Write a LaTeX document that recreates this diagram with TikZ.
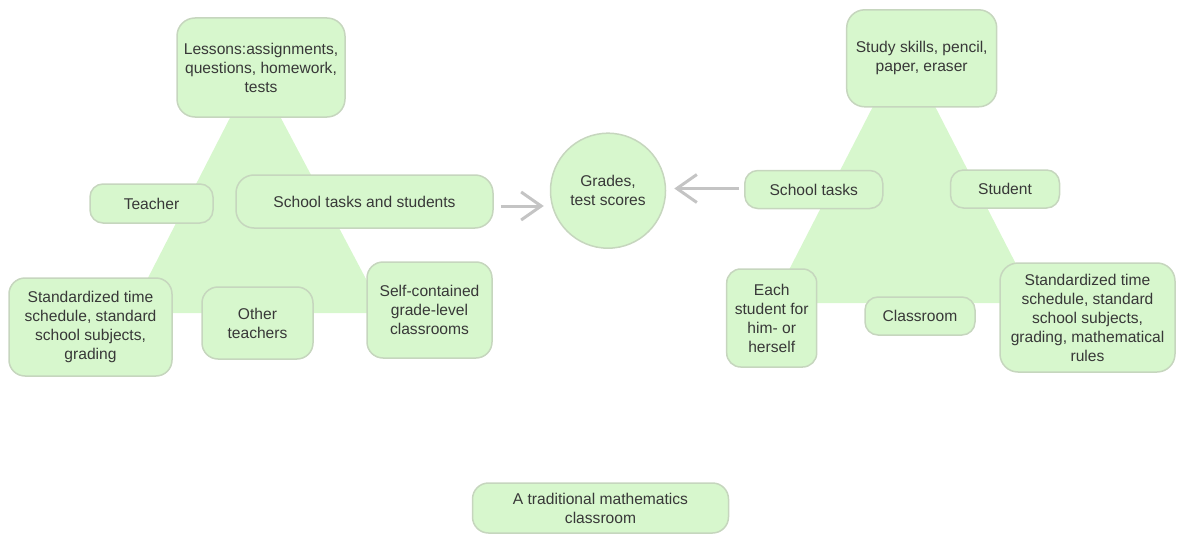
\documentclass[tikz,border=0pt]{standalone}
\usepackage{fontspec}
\setmainfont{Liberation Sans}
\usetikzlibrary{arrows.meta}
\definecolor{boxfill}{HTML}{D7F7CD}
\definecolor{boxline}{HTML}{C6D6BE}
\definecolor{trifill}{HTML}{D7F7CD}
\definecolor{txt}{HTML}{383838}
\definecolor{arrgray}{HTML}{C4C4C4}
\tikzset{
  box/.style={draw=boxline, line width=1.5pt, fill=boxfill, rounded corners=13pt,
    align=center, inner sep=2pt, text=txt,
    font=\fontsize{15.6}{19}\selectfont},
  circbox/.style={draw=boxline, line width=1.5pt, fill=boxfill, circle,
    align=center, inner sep=0pt, text=txt, minimum size=115pt,
    font=\fontsize{15.6}{19}\selectfont},
  arr/.style={draw=arrgray, line width=3pt, -{Straight Barb[length=20pt,width=28pt,line width=3pt]}},
}
\begin{document}
\begin{tikzpicture}[x=1pt,y=-1pt]
\useasboundingbox (0,0) rectangle (1178,535);
% triangles
\fill[trifill] (255,69) -- (384,313) -- (130,313) -- cycle;
\fill[trifill] (904,46) -- (1036,303) -- (772,303) -- cycle;
% left group
\node[box, minimum width=168pt, minimum height=99pt, rounded corners=18pt] (les) at (261,67.5)
  {Lessons:assignments,\\questions, homework,\\tests};
\node[box, minimum width=123pt, minimum height=39pt] (tea) at (151.5,203.5) {Teacher};
\node[box, minimum width=257pt, minimum height=53pt, rounded corners=18pt] (sts) at (364.5,201.5)
  {School tasks and students};
\node[box, minimum width=163pt, minimum height=98pt, rounded corners=16pt] (stl) at (90.5,327)
  {Standardized time\\schedule, standard\\school subjects,\\grading};
\node[box, minimum width=111pt, minimum height=72pt, rounded corners=16pt] (oth) at (257.5,323)
  {Other\\teachers};
\node[box, minimum width=125pt, minimum height=96pt, rounded corners=16pt] (self) at (429.5,310)
  {Self-contained\\grade-level\\classrooms};
% center
\node[circbox] (gr) at (608,190.7) {Grades,\\test scores};
% right group
\node[box, minimum width=150pt, minimum height=97pt, rounded corners=18pt] (stu) at (921.7,58.3)
  {Study skills, pencil,\\paper, eraser};
\node[box, minimum width=138pt, minimum height=38pt] (st) at (813.8,189.5) {School tasks};
\node[box, minimum width=109pt, minimum height=38pt] (sd) at (1005,189) {Student};
\node[box, minimum width=90pt, minimum height=98pt, rounded corners=14pt] (each) at (771.7,318)
  {Each\\student for\\him- or\\herself};
\node[box, minimum width=110pt, minimum height=38pt] (cls) at (920,316) {Classroom};
\node[box, minimum width=175pt, minimum height=109pt, rounded corners=18pt] (str) at (1087.5,317.5)
  {Standardized time\\schedule, standard\\school subjects,\\grading, mathematical\\rules};
% bottom title
\node[box, minimum width=256pt, minimum height=50pt, rounded corners=16pt] (title) at (600.5,508)
  {A traditional mathematics\\classroom};
% arrows
\draw[arr, shorten <=7pt, shorten >=6pt] ([yshift=-4.5pt]sts.east) -- ([yshift=-4.5pt]sts.east -| gr.west);
\draw[arr, shorten <=5pt, shorten >=8pt] ([yshift=1pt]st.west) -- ([yshift=1pt]st.west -| gr.east);
\end{tikzpicture}
\end{document}
